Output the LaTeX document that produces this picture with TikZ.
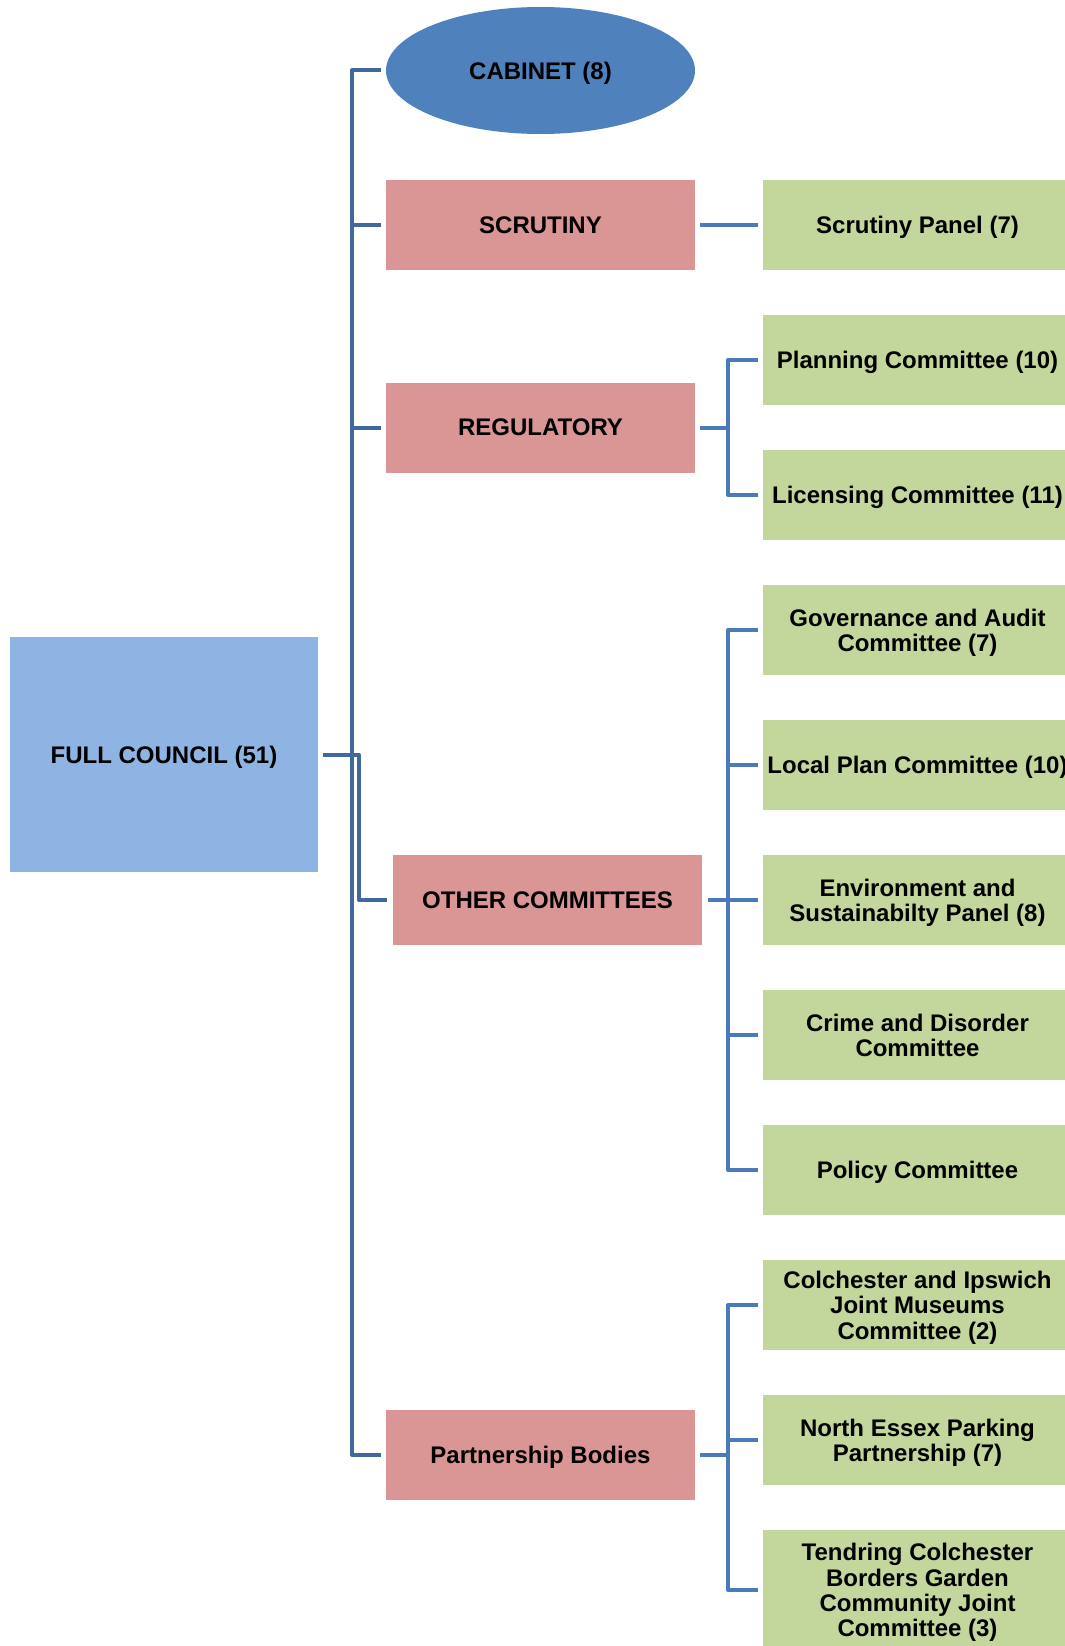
\documentclass[tikz,border=0pt]{standalone}
\usepackage{fontspec}
\setmainfont{Liberation Sans}
\usetikzlibrary{shapes.geometric}
\definecolor{cabblue}{RGB}{79,129,189}
\definecolor{fcblue}{RGB}{142,180,227}
\definecolor{pinkbox}{RGB}{217,150,148}
\definecolor{greenbox}{RGB}{195,214,155}
\definecolor{lineL}{RGB}{64,104,158}
\definecolor{lineR}{RGB}{74,122,184}
\begin{document}
\begin{tikzpicture}[x=1pt,y=-1pt,
  txt/.style={font=\bfseries\fontsize{24}{25.3}\selectfont, text=black, align=center, inner sep=0pt, text depth=0pt},
  fcbox/.style={txt, rectangle, fill=fcblue, minimum width=308pt, minimum height=235pt},
  cabbox/.style={txt, ellipse, fill=cabblue, minimum width=309pt, minimum height=127pt},
  pbox/.style={txt, rectangle, fill=pinkbox, minimum width=309pt, minimum height=90pt},
  gbox/.style={txt, rectangle, fill=greenbox, minimum width=309pt, minimum height=90pt},
  connL/.style={draw=lineL, line width=4pt, line join=round},
  connR/.style={draw=lineR, line width=4pt, line join=round}
]
\useasboundingbox (0,0) rectangle (1065,1646);

% left column
\node[fcbox] (fc) at (164,754.5) {FULL COUNCIL (51)};

% middle column
\node[cabbox] (cab) at (540.5,70.5) {CABINET (8)};
\node[pbox] (scr) at (540.5,225) {SCRUTINY};
\node[pbox] (reg) at (540.5,427.5) {REGULATORY};
\node[pbox] (oc) at (547.5,900) {OTHER COMMITTEES};
\node[pbox] (pb) at (540.5,1455) {Partnership Bodies};

% right column
\node[gbox] (sp) at (917.5,225) {Scrutiny Panel (7)};
\node[gbox] (plan) at (917.5,360) {Planning Committee (10)};
\node[gbox] (lic) at (917.5,495) {Licensing Committee (11)};
\node[gbox] (gov) at (917.5,630) {Governance and Audit\\Committee (7)};
\node[gbox] (lpc) at (917.5,765) {Local Plan Committee (10)};
\node[gbox] (env) at (917.5,900) {Environment and\\Sustainabilty Panel (8)};
\node[gbox] (crime) at (917.5,1035) {Crime and Disorder\\Committee};
\node[gbox] (pol) at (917.5,1170) {Policy Committee};
\node[gbox] (cim) at (917.5,1305) {Colchester and Ipswich\\Joint Museums\\Committee (2)};
\node[gbox] (nep) at (917.5,1440) {North Essex Parking\\Partnership (7)};
\node[gbox, minimum height=120pt] (tcb) at (917.5,1590) {Tendring Colchester\\Borders Garden\\Community Joint\\Committee (3)};

% spine coordinates
\coordinate (sx) at (352,0);
\coordinate (sx2) at (359,0);
\coordinate (rx) at (728,0);

% main spine
\draw[connL] ([xshift=-5pt]cab.west) -- (cab.west -| sx) -- (pb.west -| sx) -- ([xshift=-5pt]pb.west);
\draw[connL] (scr.west -| sx) -- ([xshift=-5pt]scr.west);
\draw[connL] (reg.west -| sx) -- ([xshift=-5pt]reg.west);
\draw[connL] ([xshift=5pt]fc.east) -- (fc.east -| sx2) -- (oc.west -| sx2) -- ([xshift=-6pt]oc.west);

% scrutiny
\draw[connR] ([xshift=5pt]scr.east) -- ([xshift=-5pt]sp.west);

% regulatory
\draw[connR] ([xshift=5pt]reg.east) -- (reg.east -| rx);
\draw[connR] ([xshift=-5pt]plan.west) -- (plan.west -| rx) -- (lic.west -| rx) -- ([xshift=-5pt]lic.west);

% other committees
\draw[connR] ([xshift=6pt]oc.east) -- (oc.east -| rx);
\draw[connR] ([xshift=-5pt]gov.west) -- (gov.west -| rx) -- (pol.west -| rx) -- ([xshift=-5pt]pol.west);
\draw[connR] (lpc.west -| rx) -- ([xshift=-5pt]lpc.west);
\draw[connR] (env.west -| rx) -- ([xshift=-5pt]env.west);
\draw[connR] (crime.west -| rx) -- ([xshift=-5pt]crime.west);

% partnership bodies
\draw[connR] ([xshift=5pt]pb.east) -- (pb.east -| rx);
\draw[connR] ([xshift=-5pt]cim.west) -- (cim.west -| rx) -- (tcb.west -| rx) -- ([xshift=-5pt]tcb.west);
\draw[connR] (nep.west -| rx) -- ([xshift=-5pt]nep.west);
\end{tikzpicture}
\end{document}
